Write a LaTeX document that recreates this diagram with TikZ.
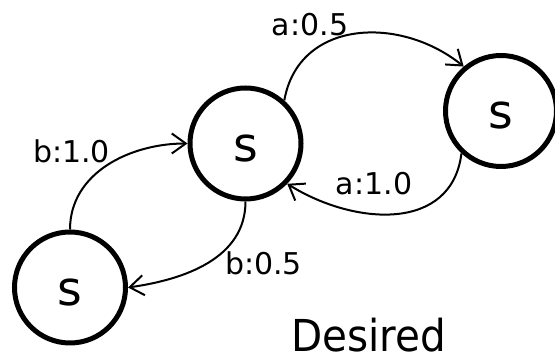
\documentclass[tikz,border=0pt]{standalone}
\usepackage{fontspec}
\setmainfont{DejaVu Sans}
\newfontfamily\desfont[FakeStretch=0.92]{DejaVu Sans}
\usetikzlibrary{arrows.meta}
\begin{document}
\begin{tikzpicture}[x=1pt,y=1pt,
  state/.style={circle, draw, line width=5pt, minimum size=111pt, inner sep=0pt,
    font=\fontsize{47.5}{50}\selectfont, text height=36pt, text depth=0pt},
  trans/.style={line width=2pt, -{Straight Barb[length=14pt,width=20pt]}},
  lbl/.style={font=\fontsize{30}{36}\selectfont, inner sep=0pt}]
\useasboundingbox (0,0) rectangle (555,358);
\clip (0,0) rectangle (555,358);
\node[state] (A) at (245.5,214.5) {s};
\node[state] (B) at (501,247) {s};
\node[state] (C) at (70,70.5) {s};
\draw[trans] (C.north) to[out=90,in=180] (A.west);
\draw[trans] (A.south) to[out=-90,in=8] (C.east);
\draw[trans] (A.48) to[out=80,in=141,looseness=1.15] (B.130);
\draw[trans] (B.227) to[out=263,in=-32,looseness=1.15] (A.-44);
\node[lbl] (l1) at (71.5,206.5) {b:1.0};
\node[lbl] (l2) at (263.5,94.5) {b:0.5};
\node[lbl] (l3) at (310,333) {a:0.5};
\node[lbl] (l4) at (374,174) {a:1.0};
\node[inner sep=0pt, font=\desfont\fontsize{44}{50}\selectfont] (d) at (368.5,22.5) {Desired};
\end{tikzpicture}
\end{document}
